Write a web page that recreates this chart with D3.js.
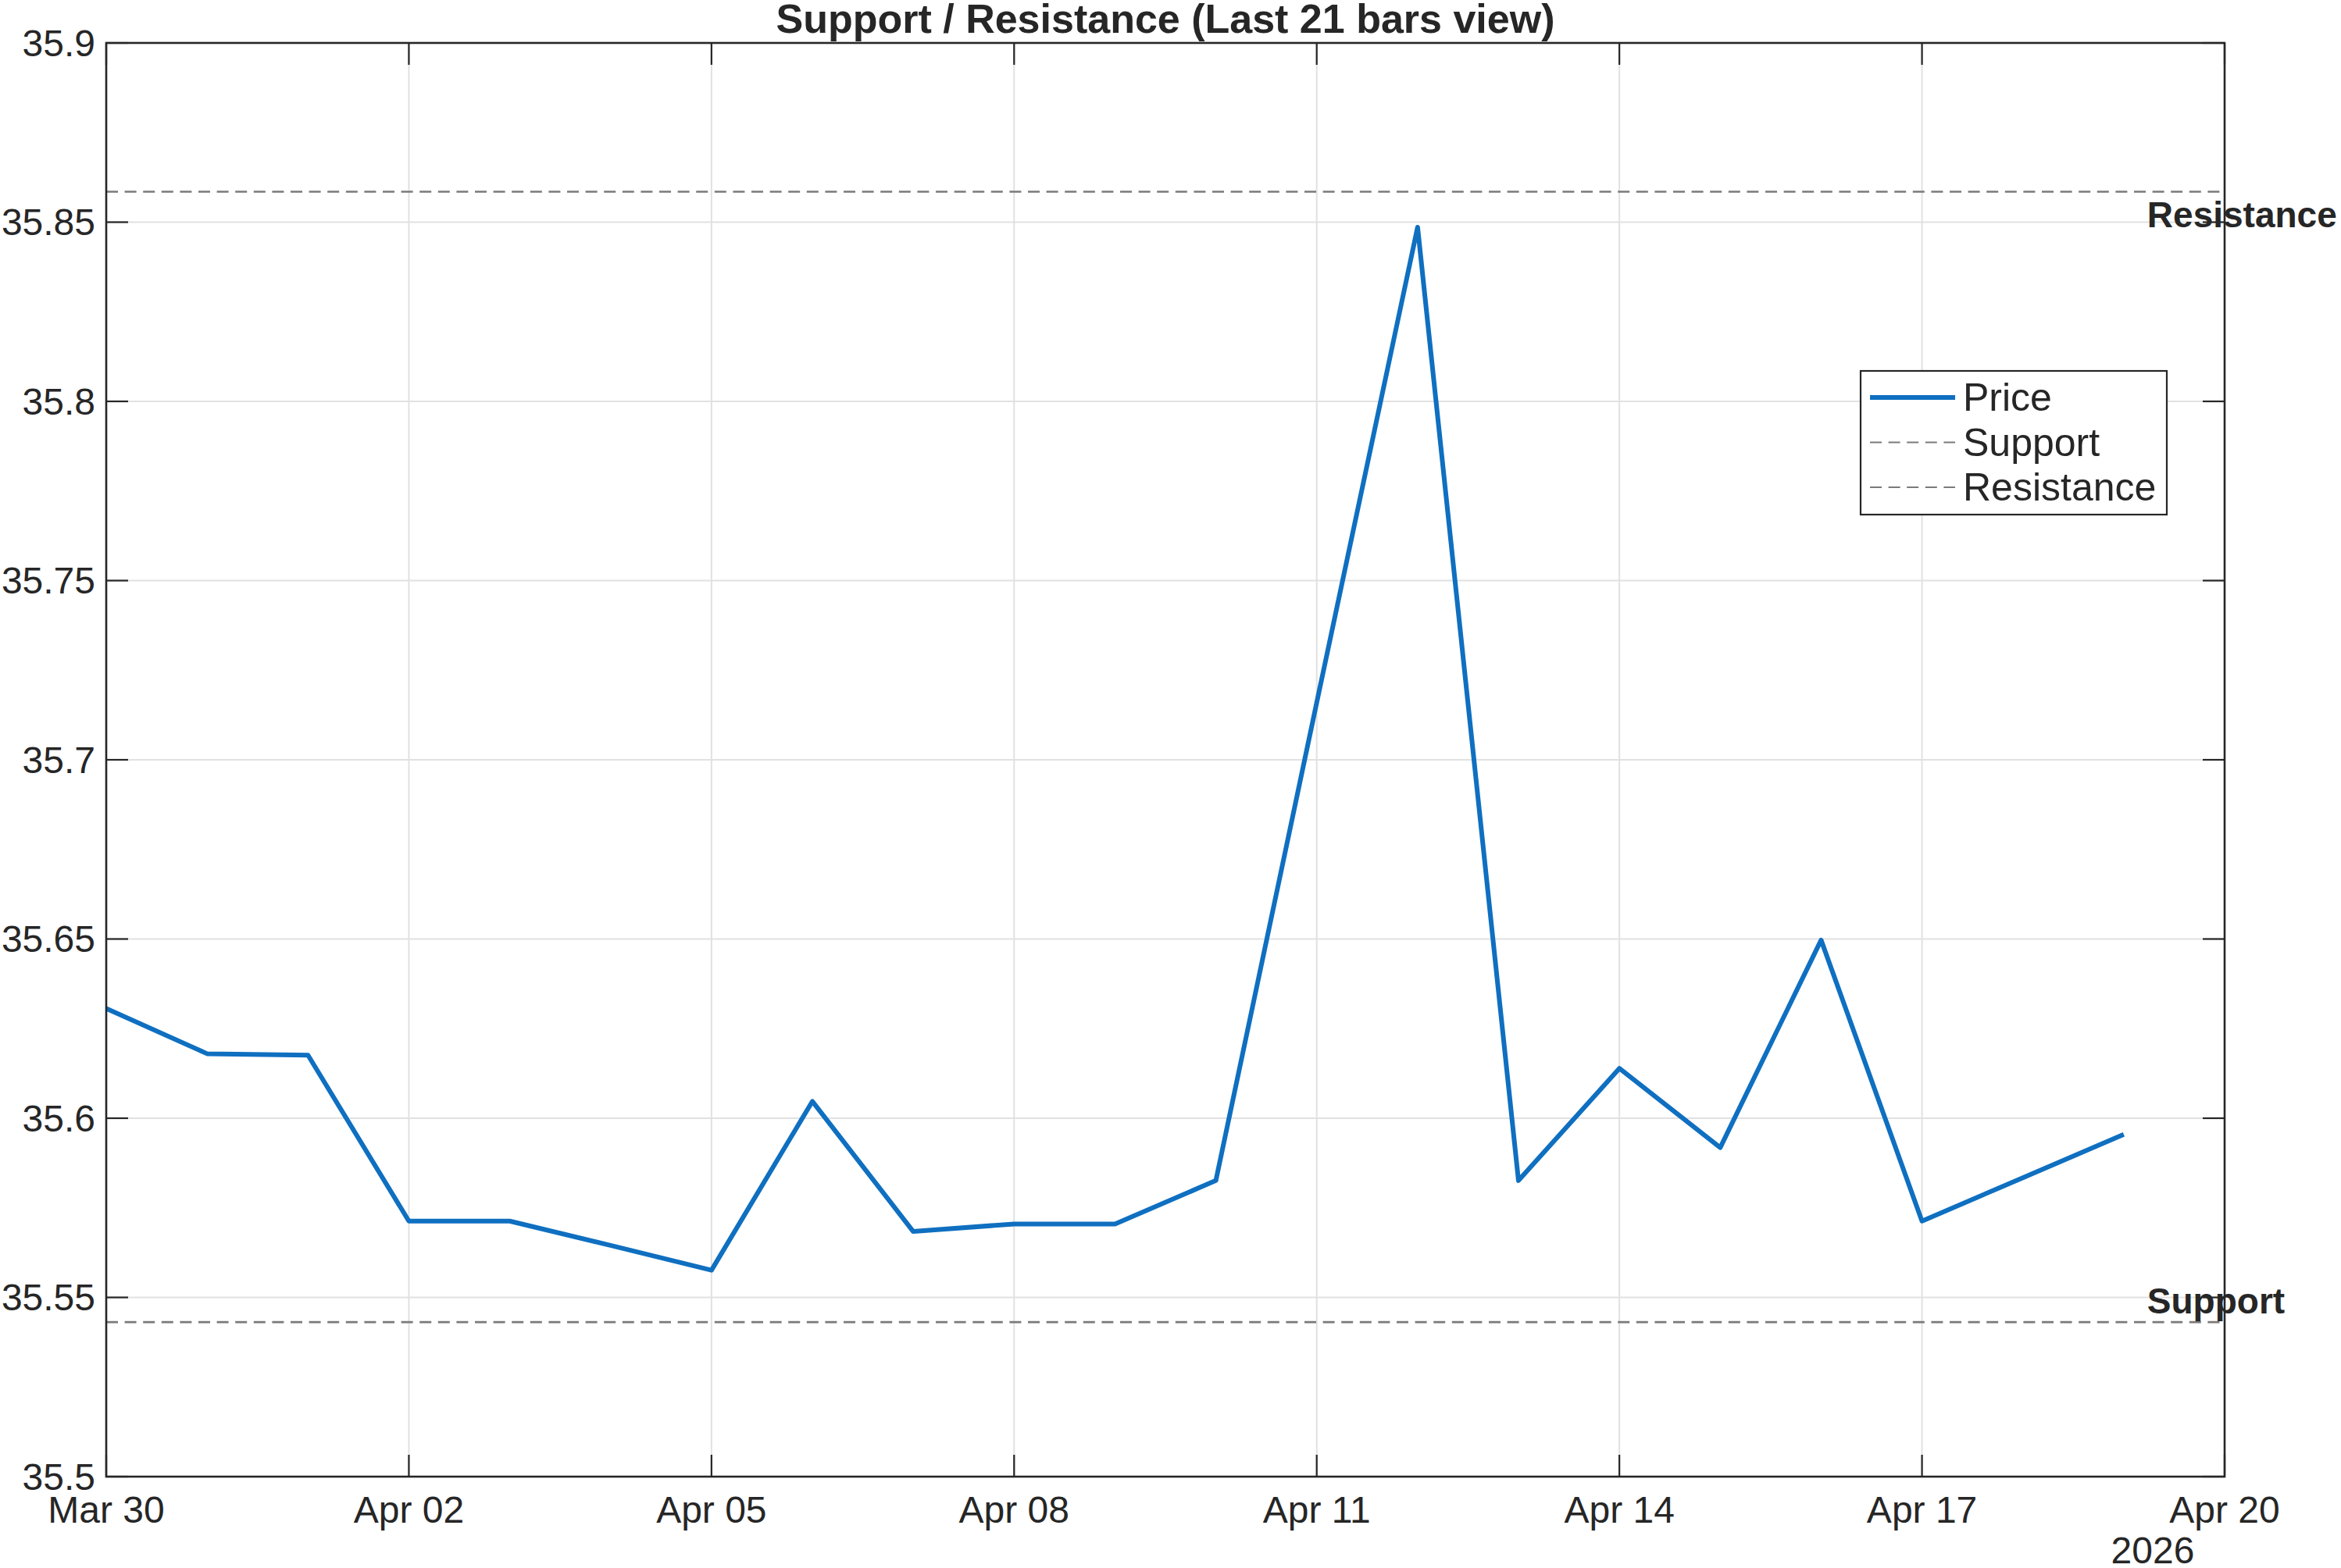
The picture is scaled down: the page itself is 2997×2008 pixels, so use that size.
<!DOCTYPE html>
<html>
<head>
<meta charset="utf-8">
<script src="https://cdn.jsdelivr.net/npm/d3@7"></script>
<style>
  body { margin: 0; background: #fff; }
  text { font-family: "Liberation Sans", Arial, sans-serif; fill: #262626; }
</style>
</head>
<body>
<div id="chart"></div>
<script>
// data (daily bars, Mar 30 - Apr 19 2026)
const dates = ["2026-03-30","2026-03-31","2026-04-01","2026-04-02","2026-04-03","2026-04-04","2026-04-05",
  "2026-04-06","2026-04-07","2026-04-08","2026-04-09","2026-04-10","2026-04-11","2026-04-12",
  "2026-04-13","2026-04-14","2026-04-15","2026-04-16","2026-04-17","2026-04-18","2026-04-19"];
const prices = [35.6306, 35.6180, 35.6176, 35.5713, 35.5713, 35.5645, 35.5576,
  35.6047, 35.5684, 35.5705, 35.5705, 35.5826, 35.7160, 35.8486,
  35.5826, 35.6139, 35.5918, 35.6497, 35.5713, 35.5834, 35.5955];
const supportLevel = 35.5431;
const resistanceLevel = 35.8585;
const yTicks = [35.5, 35.55, 35.6, 35.65, 35.7, 35.75, 35.8, 35.85, 35.9];
const xTickDates = ["2026-03-30","2026-04-02","2026-04-05","2026-04-08","2026-04-11","2026-04-14","2026-04-17","2026-04-20"];
const legendItems = ["Price", "Support", "Resistance"];

const width = 2997, height = 2008;
const margin = {left: 136, right: 149, top: 55, bottom: 117};
const plotW = width - margin.left - margin.right;
const plotH = height - margin.top - margin.bottom;

const parse = d3.utcParse("%Y-%m-%d");
const data = dates.map((d, i) => ({date: parse(d), price: prices[i]}));

const svg = d3.select("#chart").append("svg")
    .attr("width", width)
    .attr("height", height);

const x = d3.scaleUtc()
    .domain([parse("2026-03-30"), parse("2026-04-20")])
    .range([margin.left, margin.left + plotW]);
const y = d3.scaleLinear()
    .domain([35.5, 35.9])
    .range([margin.top + plotH, margin.top]);

const xt = xTickDates.map(parse);
const grid = svg.append("g");
// grid
grid.selectAll(".gx").data(xt).join("line")
    .attr("x1", d => x(d)).attr("x2", d => x(d))
    .attr("y1", margin.top).attr("y2", margin.top + plotH)
    .attr("stroke", "#e1e1e1").attr("stroke-width", 2);
grid.selectAll(".gy").data(yTicks).join("line")
    .attr("x1", margin.left).attr("x2", margin.left + plotW)
    .attr("y1", d => y(d)).attr("y2", d => y(d))
    .attr("stroke", "#e1e1e1").attr("stroke-width", 2);

// support / resistance
const levels = [supportLevel, resistanceLevel];
svg.selectAll(".lvl").data(levels).join("line")
    .attr("x1", margin.left).attr("x2", margin.left + plotW)
    .attr("y1", d => y(d)).attr("y2", d => y(d))
    .attr("stroke", "#7a7a7a").attr("stroke-width", 2.6)
    .attr("stroke-dasharray", "15,8.6");

// price line
const line = d3.line().x(d => x(d.date)).y(d => y(d.price));
svg.append("path")
    .datum(data)
    .attr("d", line)
    .attr("fill", "none")
    .attr("stroke", "#0F6FC0")
    .attr("stroke-width", 6)
    .attr("stroke-linejoin", "round");

// axes box + inward ticks
const ax = svg.append("g");
const tl = 28;
xt.forEach(d => {
  ax.append("line").attr("x1", x(d)).attr("x2", x(d))
    .attr("y1", margin.top + plotH).attr("y2", margin.top + plotH - tl);
  ax.append("line").attr("x1", x(d)).attr("x2", x(d))
    .attr("y1", margin.top).attr("y2", margin.top + tl);
});
yTicks.forEach(d => {
  ax.append("line").attr("x1", margin.left).attr("x2", margin.left + tl)
    .attr("y1", y(d)).attr("y2", y(d));
  ax.append("line").attr("x1", margin.left + plotW).attr("x2", margin.left + plotW - tl)
    .attr("y1", y(d)).attr("y2", y(d));
});
ax.selectAll("line").attr("stroke", "#262626").attr("stroke-width", 2.2);
ax.append("rect")
    .attr("x", margin.left).attr("y", margin.top)
    .attr("width", plotW).attr("height", plotH)
    .attr("fill", "none").attr("stroke", "#262626").attr("stroke-width", 2.6);

// tick labels
const fmtDate = d3.utcFormat("%b %d");
svg.selectAll(".xl").data(xt).join("text")
    .attr("x", d => x(d)).attr("y", margin.top + plotH + 59)
    .attr("text-anchor", "middle")
    .style("font-size", "48px")
    .text(d => fmtDate(d));
svg.append("text")
    .attr("x", 2756).attr("y", 2002)
    .attr("text-anchor", "middle")
    .style("font-size", "48px")
    .text("2026");
svg.selectAll(".yl").data(yTicks).join("text")
    .attr("x", margin.left - 14).attr("y", d => y(d))
    .attr("text-anchor", "end")
    .attr("dominant-baseline", "central")
    .style("font-size", "48px")
    .text(d => d3.format("")(+d.toFixed(2)));

// title
svg.append("text")
    .attr("x", margin.left + plotW / 2).attr("y", 42)
    .attr("text-anchor", "middle")
    .style("font-size", "52px").style("font-weight", "bold")
    .text("Support / Resistance (Last 21 bars view)");

// level labels
const lastDate = data[data.length - 1].date;
svg.append("text")
    .attr("x", x(lastDate) + 30).attr("y", y(resistanceLevel) + 46)
    .style("font-size", "46px").style("font-weight", "bold")
    .text("Resistance");
svg.append("text")
    .attr("x", x(lastDate) + 30).attr("y", y(supportLevel) - 11)
    .style("font-size", "46px").style("font-weight", "bold")
    .text("Support");

// legend
const lg = svg.append("g").attr("transform", "translate(2382,475)");
lg.append("rect").attr("width", 392).attr("height", 184)
    .attr("fill", "#fff").attr("stroke", "#262626").attr("stroke-width", 2.2);
legendItems.forEach((name, i) => {
  const cy = 34 + i * 57.5;
  lg.append("line").attr("x1", 12).attr("x2", 121).attr("y1", cy).attr("y2", cy)
    .attr("stroke", i === 0 ? "#0F6FC0" : "#7a7a7a")
    .attr("stroke-width", i === 0 ? 6 : 2.2)
    .attr("stroke-dasharray", i === 0 ? null : "15,8.6");
  lg.append("text").attr("x", 131).attr("y", cy)
    .attr("dominant-baseline", "central")
    .style("font-size", "50px")
    .text(name);
});
</script>
</body>
</html>
